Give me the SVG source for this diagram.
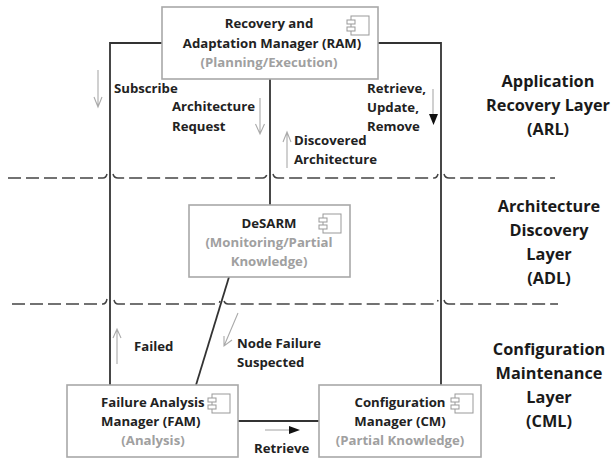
<svg xmlns="http://www.w3.org/2000/svg" width="613" height="460" viewBox="0 0 613 460">
<style>
text{font-family:"Open Sans","Liberation Sans",sans-serif;font-weight:700;font-size:13.2px;fill:#222}
.m{text-anchor:middle}
.g{fill:#a0a0a0}
.l{font-size:16.3px;text-anchor:middle;fill:#1a1a1a}
.box{fill:#fff;stroke:#a8a8a8;stroke-width:1.6}
.ic{fill:#fff;stroke:#999;stroke-width:1}
.c{fill:none;stroke:#333;stroke-width:1.8}
.d{fill:none;stroke:#444;stroke-width:1.5;stroke-dasharray:13 5}
.a{fill:none;stroke:#aaa;stroke-width:1.1}
</style>
<defs>
<g id="icon"><rect class="ic" x="4" y="0" width="18" height="19"/><rect class="ic" x="0" y="4" width="8" height="4"/><rect class="ic" x="0" y="11" width="8" height="4"/></g>
</defs>
<g id="layers">
<path class="d" d="M8 178H103q3 0 4-4M113 174q1 4 5 4H263q3 0 4-4M273 174q1 4 5 4H434q3 0 4-4M444 174q1 4 5 4H555"/>
<path class="d" d="M12 304H103q3 0 4-5M114 300q1 4 4 4H218q1 0 2-3M224 301q1 3 4 3H434q3 0 4-4M444 300q1 4 5 4H558"/>
</g>
<g id="connectors">
<path class="c" d="M162 43H110V385"/>
<path class="c" d="M378 43H441V385"/>
<path class="c" d="M270 79V205"/>
<path class="c" d="M229 277L196 385"/>
<path class="c" d="M238 421H319"/>
<path class="a" d="M98 70V107M94 97L98 107L102 97"/>
<path class="a" d="M260 98V134M255.500 124L260 134L264.500 124"/>
<path class="a" d="M287 168V132M283 142L287 132L291 142"/>
<path class="a" d="M433 89V115"/>
<path d="M429 114H438L433.500 125Z" fill="#111"/>
<path class="a" d="M117 364V329M113 338L117 329L121 338"/>
<path class="a" d="M238 313L224 346M224 336L224 346L232 340"/>
<path class="a" d="M265 430H292"/>
<path d="M289 426L300 430L289 434Z" fill="#111"/>
</g>
<g id="ram">
<rect class="box" x="162" y="7" width="216" height="72"/>
<use href="#icon" x="347" y="16"/>
<text class="m" x="269" y="28">Recovery and</text>
<text class="m" x="272" y="48">Adaptation Manager (RAM)</text>
<text class="m g" x="269" y="67">(Planning/Execution)</text>
</g>
<g id="desarm">
<rect class="box" x="189" y="205" width="161" height="72"/>
<use href="#icon" x="319" y="214"/>
<text class="m" x="269" y="228">DeSARM</text>
<text class="m g" x="269" y="247">(Monitoring/Partial</text>
<text class="m g" x="269" y="266">Knowledge)</text>
</g>
<g id="fam">
<rect class="box" x="67" y="385" width="171" height="72"/>
<use href="#icon" x="208" y="394"/>
<text x="101" y="407">Failure Analysis</text>
<text x="101" y="426">Manager (FAM)</text>
<text class="m g" x="153" y="445">(Analysis)</text>
</g>
<g id="cm">
<rect class="box" x="319" y="385" width="162" height="72"/>
<use href="#icon" x="451" y="394"/>
<text class="m" x="400" y="407">Configuration</text>
<text class="m" x="400" y="426">Manager (CM)</text>
<text class="m g" x="400" y="445">(Partial Knowledge)</text>
</g>
<g id="labels">
<text x="114" y="93">Subscribe</text>
<text x="172" y="111">Architecture</text>
<text x="172" y="131">Request</text>
<text x="367" y="93">Retrieve,</text>
<text x="367" y="112">Update,</text>
<text x="367" y="131">Remove</text>
<text x="294" y="145">Discovered</text>
<text x="294" y="164">Architecture</text>
<text x="134" y="351">Failed</text>
<text x="237" y="348">Node Failure</text>
<text x="237" y="367">Suspected</text>
<text x="254" y="453">Retrieve</text>
<text class="l" x="548" y="87">Application</text>
<text class="l" x="548" y="111">Recovery Layer</text>
<text class="l" x="548" y="135">(ARL)</text>
<text class="l" x="549" y="212">Architecture</text>
<text class="l" x="549" y="236">Discovery</text>
<text class="l" x="549" y="260">Layer</text>
<text class="l" x="549" y="284">(ADL)</text>
<text class="l" x="549" y="355">Configuration</text>
<text class="l" x="549" y="379">Maintenance</text>
<text class="l" x="549" y="403">Layer</text>
<text class="l" x="549" y="427">(CML)</text>
</g>
</svg>
